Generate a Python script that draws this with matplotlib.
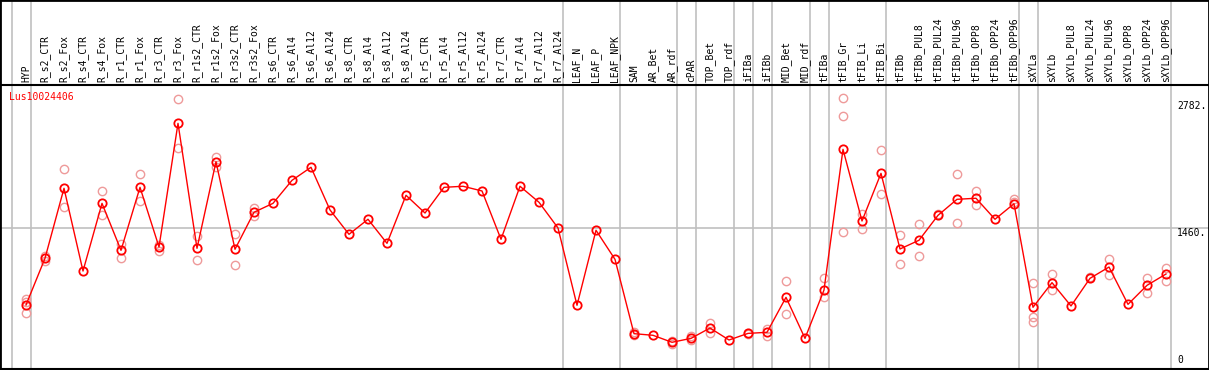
import matplotlib
matplotlib.use("Agg")
import matplotlib.pyplot as plt

# ------------------------------------------------------------
# data
# ------------------------------------------------------------
GENE = "Lus10024406"

SAMPLES = [
    "HYP", "R_s2_CTR", "R_s2_Fox", "R_s4_CTR", "R_s4_Fox", "R_r1_CTR", "R_r1_Fox",
    "R_r3_CTR", "R_r3_Fox", "R_r1s2_CTR", "R_r1s2_Fox", "R_r3s2_CTR", "R_r3s2_Fox",
    "R_s6_CTR", "R_s6_Al4", "R_s6_Al12", "R_s6_Al24", "R_s8_CTR", "R_s8_Al4",
    "R_s8_Al12", "R_s8_Al24", "R_r5_CTR", "R_r5_Al4", "R_r5_Al12", "R_r5_Al24",
    "R_r7_CTR", "R_r7_Al4", "R_r7_Al12", "R_r7_Al24", "LEAF_N", "LEAF_P", "LEAF_NPK",
    "SAM", "AR_Bet", "AR_rdf", "cPAR", "TOP_Bet", "TOP_rdf", "iFIBa", "iFIBb",
    "MID_Bet", "MID_rdf", "tFIBa", "tFIB_Gr", "tFIB_Li", "tFIB_Bi", "tFIBb",
    "tFIBb_PUL8", "tFIBb_PUL24", "tFIBb_PUL96", "tFIBb_OPP8", "tFIBb_OPP24",
    "tFIBb_OPP96", "sXYLa", "sXYLb", "sXYLb_PUL8", "sXYLb_PUL24", "sXYLb_PUL96",
    "sXYLb_OPP8", "sXYLb_OPP24", "sXYLb_OPP96",
]

MEANS = [
    657, 1144, 1874, 1011, 1717, 1227, 1884, 1262, 2551, 1248, 2151, 1238, 1624,
    1717, 1957, 2093, 1648, 1394, 1551, 1300, 1801, 1616, 1884, 1895, 1846,
    1342, 1895, 1728, 1460, 654, 1436, 1133,
    358, 341, 268, 309, 417, 292, 361, 372, 737, 309, 813,
    2280, 1533, 2030, 1241, 1332, 1592, 1759, 1770, 1551, 1713,
    633, 890, 647, 935, 1053, 664, 862, 980,
]

REPLICATES = [
    [716, 690, 570], [1171, 1119], [2072, 1676], [], [1846, 1592], [1293, 1150],
    [2020, 1738], [1283, 1220], [2805, 2291], [1380, 1123], [2203, 2099],
    [1394, 1074], [1671, 1585],
    [], [], [], [], [], [], [], [], [], [], [], [],
    [], [], [], [], [], [], [],
    [375, 345], [], [285, 255], [330, 295], [473, 361], [], [350], [410, 337],
    [904, 560], [], [935, 737],
    [2812, 2624, 1415], [1606, 1446], [2270, 1811], [1384, 1084], [1498, 1168],
    [1610], [2020, 1509], [1846, 1703], [], [1762, 1735],
    [883, 535, 483], [980, 810], [], [950], [1137, 967], [], [935, 779], [1046, 910],
]

# group separators (drawn just right of these column indices)
SEPARATORS = [-1, 0, 28, 31, 34, 35, 37, 38, 39, 41, 42, 45, 52, 53, 60]

Y_TICKS = [2782, 1460, 0]
Y_TICK_LABELS = ["2782.", "1460.", "0"]

# ------------------------------------------------------------
# layout: one axes over the whole canvas, pixel geometry mapped to data
# ------------------------------------------------------------
W, H = 1209, 370
X0, DX = 26.0, 19.0           # pixel x of first column, column spacing
Y_ZERO, PX_PER_UNIT = 368.0, 0.0959
HEADER_PX = 85.0

def v_at(ypix):
    return (Y_ZERO - ypix) / PX_PER_UNIT

def col_at(xpix):
    return (xpix - X0) / DX

RED = "#ff0000"
REP_COLOR = "#ee9a9a"
GRID = "#c0c0c0"
MONO = "DejaVu Sans Mono"

fig = plt.figure(figsize=(W / 100, H / 100), dpi=100)
ax = fig.add_axes([0, 0, 1, 1])
ax.set_xlim(col_at(0), col_at(W))
ax.set_ylim(v_at(H), v_at(0))
ax.set_xticks([])
ax.set_yticks([])
for side in ["left", "top", "right"]:
    ax.spines[side].set_color("black")
    ax.spines[side].set_linewidth(2)
ax.spines["bottom"].set_visible(False)

# bottom border and header separator
ax.axhline(v_at(368.8), color="black", linewidth=1.5, zorder=6)
ax.axhline(v_at(HEADER_PX), color="black", linewidth=1.5, zorder=6)

# gridlines
ax.axhline(1460, color=GRID, linewidth=1.2, zorder=1)
for s in SEPARATORS:
    ax.axvline(s + 0.24, color=GRID, linewidth=1.2, zorder=1)

# column labels
for i, name in enumerate(SAMPLES):
    ax.text(i, v_at(82), name, rotation=90, ha="center", va="bottom",
            fontsize=7, family=MONO, color="black")

# replicates
for i, reps in enumerate(REPLICATES):
    if reps:
        ax.plot([i] * len(reps), reps, linestyle="none", marker="o",
                markersize=6, markerfacecolor="none", markeredgecolor=REP_COLOR,
                markeredgewidth=1.0, zorder=3)

# mean profile
xs = list(range(len(MEANS)))
ax.plot(xs, MEANS, color=RED, linewidth=1.0, marker="o", markersize=6,
        markerfacecolor="none", markeredgecolor=RED, markeredgewidth=1.3, zorder=4)

# gene name
ax.text(col_at(9), v_at(97), GENE, ha="left", va="center", fontsize=7,
        family=MONO, color=RED)

# value labels on the right
for val, lab in zip(Y_TICKS, Y_TICK_LABELS):
    va = "bottom" if val == 0 else "top"
    ypos = v_at(365) if val == 0 else val
    ax.text(col_at(1177), ypos, lab, ha="left", va=va, fontsize=7,
            family=MONO, color="black")

fig.savefig("out.png", dpi=100)
